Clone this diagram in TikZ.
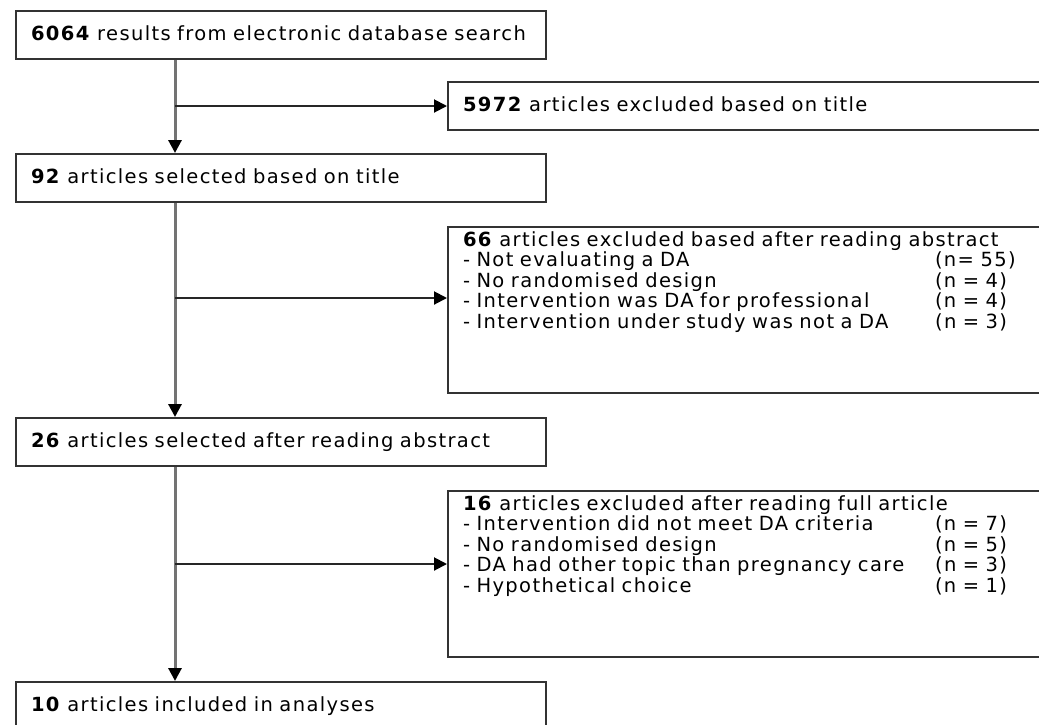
\documentclass[tikz,border=0pt]{standalone}
\usepackage{fontspec}
\setmainfont{DejaVu Sans}[LetterSpace=7]
\usetikzlibrary{calc,positioning,arrows.meta}

\newcommand\dropline[2]{\\\makebox[472pt][l]{- #1}(#2)}

\tikzset{
  stage/.style={draw=black!80,line width=2pt,anchor=north west,
    minimum width=530pt,minimum height=48pt,inner xsep=14pt,inner ysep=0pt,
    text width=500pt,align=left,text height=14pt,text depth=4pt},
  dropped/.style={draw=black!80,line width=2pt,anchor=north west,
    inner xsep=15pt,inner ysep=0pt,text width=600pt,align=left},
  trunk/.style={draw=black!55,line width=3pt,
    -{Triangle[length=13pt,width=13pt,color=black]}},
  branch/.style={draw=black!85,line width=2pt,
    -{Triangle[length=13pt,width=13pt,color=black]}}
}

\begin{document}
\begin{tikzpicture}[x=1pt,y=-1pt,font=\fontsize{19.5pt}{20.5pt}\selectfont]
\useasboundingbox[fill=white] (0,0) rectangle (1039,724);
\clip (0,0) rectangle (1039,724);

\coordinate (trunk) at (175,0);

\node[stage] (search) at (15,10) {\textbf{6064} results from electronic database search};
\node[stage] (title) at (15,153) {\textbf{92} articles selected based on title};
\node[stage] (abstract) at (15,417) {\textbf{26} articles selected after reading abstract};
\node[stage] (included) at (15,681) {\textbf{10} articles included in analyses};

\node[dropped,minimum height=48pt,text height=14pt,text depth=4pt] (extitle) at (447,81)
  {\textbf{5972} articles excluded based on title};
\node[dropped,text height=19pt,text depth=147pt] (exabstract) at (447,226)
  {\textbf{66} articles excluded based after reading abstract
   \dropline{Not evaluating a DA}{n= 55}
   \dropline{No randomised design}{n = 4}
   \dropline{Intervention was DA for professional}{n = 4}
   \dropline{Intervention under study was not a DA}{n = 3}};
\node[dropped,text height=19pt,text depth=147pt] (exfull) at (447,490)
  {\textbf{16} articles excluded after reading full article
   \dropline{Intervention did not meet DA criteria}{n = 7}
   \dropline{No randomised design}{n = 5}
   \dropline{DA had other topic than pregnancy care}{n = 3}
   \dropline{Hypothetical choice}{n = 1}};

\coordinate (hit1) at (extitle.west);
\coordinate (hit2) at ($(exabstract.north west)+(0,72)$);
\coordinate (hit3) at ($(exfull.north west)+(0,74)$);

\draw[trunk] (search.south -| trunk) -- (title.north -| trunk);
\draw[trunk] (title.south -| trunk) -- (abstract.north -| trunk);
\draw[trunk] (abstract.south -| trunk) -- (included.north -| trunk);

\draw[branch] (hit1 -| trunk) -- (hit1);
\draw[branch] (hit2 -| trunk) -- (hit2);
\draw[branch] (hit3 -| trunk) -- (hit3);
\end{tikzpicture}
\end{document}
